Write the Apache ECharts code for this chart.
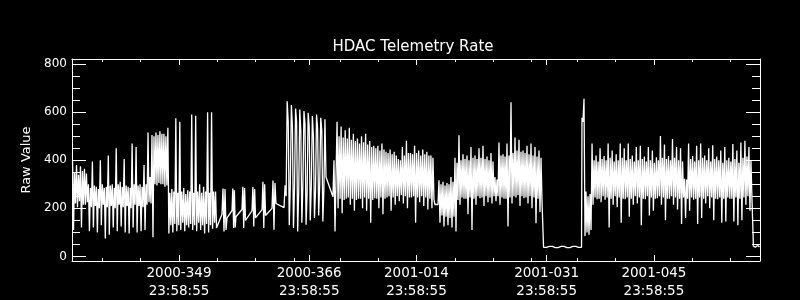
<!DOCTYPE html>
<html><head><meta charset="utf-8">
<script src="https://cdn.jsdelivr.net/npm/echarts@6/dist/echarts.min.js"></script>
<style>html,body{margin:0;padding:0;background:#000}#c{width:800px;height:300px}</style>
</head><body><div id="c"></div>
<script>
// time unit: days since 2000-001 00:00:00
const titleText = 'HDAC Telemetry Rate';
const yName = 'Raw Value';
const majorTicks = [348.999, 365.999, 379.999, 396.999, 410.999];
const tickLabels = ['2000-349\n23:58:55', '2000-366\n23:58:55', '2001-014\n23:58:55', '2001-031\n23:58:55', '2001-045\n23:58:55'];
const minorTicks = [339, 344, 349, 354, 359, 364, 370, 375, 380, 385, 390, 395, 401, 406, 411, 416, 421];
const yMajor = [0, 200, 400, 600, 800];
const yMinor = [50, 100, 150, 250, 300, 350, 450, 500, 550, 650, 700, 750];

// telemetry segments: each is evenly sampled between its start and end day
const segStart = [335.10, 354.61, 355.92, 357.22, 358.53, 359.84, 361.14, 362.71, 369.10, 382.81, 396.59, 401.61, 423.99];
const segEnd   = [353.90, 355.27, 356.44, 357.68, 358.99, 360.30, 361.66, 368.19, 382.42, 396.39, 401.55, 423.80, 424.78];

const seg1 = [
  400,110,350,220, 380,205,340,230, 375,120,355,215, 365,215,345,225,
  300,105,285,205, 395,120,295,210, 290,100,280,200, 400,130,300,215,
  285,75,290,205, 420,90,295,210, 300,120,285,200, 450,105,300,215,
  310,125,290,205, 405,100,295,210, 290,95,285,200, 470,120,300,215,
  455,100,295,210, 300,105,290,205, 380,110,300,215, 515,225,330,220,
  505,80,500,300, 515,295,505,305, 520,300,510,300, 510,290,500,295,
  535,95,265,130, 280,100,270,135, 575,105,265,130, 560,110,270,140,
  285,105,260,130, 275,120,270,135, 590,110,265,130, 585,105,270,140,
  300,110,265,130, 290,95,270,135, 600,100,265,130, 600,115,270,140,
  270,118];
const seg2 = [175, 282, 104, 280, 110, 160];
const seg3 = [190, 282, 118, 275, 120, 165];
const seg4 = [195, 290, 118, 285, 150];
const seg5 = [190, 289, 125, 280, 160];
const seg6 = [195, 310, 118, 300, 170];
const seg7 = [200, 316, 111, 305, 220];
const seg8 = [203, 296, 250, 645, 560, 130, 300, 630, 540, 118, 280, 615, 560, 104, 270, 611, 520, 140, 300, 605,
  550, 132, 260, 597, 540, 150, 290, 584, 500, 160, 270, 590, 530, 170, 300, 577, 520, 145, 280, 570, 330];
const seg9 = [248, 400, 104, 330,
  560,200,500,240, 540,180,495,235, 525,240,490,245, 535,215,485,240,
  510,190,480,235, 490,240,470,240, 500,200,475,245, 510,190,465,240,
  480,140,455,235, 460,242,450,240, 460,200,440,245, 470,175,445,240,
  435,245,430,250, 445,190,425,245, 435,215,420,250, 405,230,400,255,
  455,220,420,250, 481,200,430,245, 430,245,425,250, 460,140,430,245,
  440,225,420,250, 445,210,425,245, 435,195,420,240, 420,200,410,235,
  216];
const seg10 = [216,
  317,140,300,170, 310,125,295,165, 305,130,300,160, 330,120,310,165,
  410,104,390,235, 504,215,400,245, 425,240,405,240, 420,175,400,245,
  455,110,410,240, 420,215,405,250, 450,242,410,245, 460,210,405,250,
  415,225,400,245, 430,220,395,250, 330,230,320,250, 474,215,420,245,
  425,240,415,240, 470,125,420,245, 641,220,430,250, 495,245,440,255,
  485,210,435,250, 440,242,430,245, 460,220,425,250, 470,200,420,245,
  455,138,415,240, 440,185,410,230];
const seg11 = [38, 38, 42, 42, 37, 37, 42, 42, 37, 37, 42, 42, 38, 38];
const seg12 = [577, 560, 656, 85, 270, 100, 250, 90, 260, 110,
  470,215,400,245, 420,238,395,240, 450,225,405,250, 418,236,400,245,
  470,120,410,240, 440,215,395,250, 425,205,400,245, 470,140,410,240,
  450,238,400,245, 470,165,405,240, 420,215,395,250, 455,220,400,245,
  460,130,405,240, 415,238,395,250, 455,170,400,245, 440,190,390,240,
  412,242,400,250, 501,215,410,245, 465,150,405,240, 418,240,400,250,
  488,215,410,245, 455,195,400,240, 450,135,395,245, 323,160,320,240,
  470,190,405,245, 418,236,395,240, 460,135,400,245, 470,160,410,240,
  420,220,400,250, 450,200,395,245, 462,150,405,240, 415,238,400,245,
  440,140,390,240, 455,145,400,245, 410,240,395,240, 467,145,405,245,
  440,130,390,240, 474,150,410,245, 481,215,415,250, 455,190,400,240];
const seg13 = [43, 38, 46, 39];

const segValues = [seg1, seg2, seg3, seg4, seg5, seg6, seg7, seg8, seg9, seg10, seg11, seg12, seg13];
const data = [];
segValues.forEach(function (vals, k) {
  const n = vals.length;
  for (let i = 0; i < n; i++) {
    const t = n > 1 ? segStart[k] + (segEnd[k] - segStart[k]) * i / (n - 1) : segStart[k];
    data.push([t, vals[i]]);
  }
});

const FONT = 'DejaVu Sans';
const xMin = 335.03, xMax = 424.85, yMin = -19, yMax = 821;
function xAx(pos, ticks, len, showLine, showLabel) {
  return {
    type: 'value', position: pos, min: xMin, max: xMax,
    splitLine: { show: false },
    axisLine: { show: showLine, onZero: false, lineStyle: { color: '#fff', width: 1 } },
    axisTick: { show: true, inside: true, length: len, customValues: ticks, lineStyle: { color: '#fff', width: 1 } },
    axisLabel: showLabel ? {
      show: true, customValues: majorTicks, color: '#fff', fontFamily: FONT, fontSize: 13.5, lineHeight: 17.5, margin: 4,
      formatter: function (v) {
        for (let i = 0; i < majorTicks.length; i++) if (Math.abs(majorTicks[i] - v) < 1e-6) return tickLabels[i];
        return '';
      }
    } : { show: false }
  };
}
function yAx(pos, ticks, len, showLine, showLabel) {
  const a = {
    type: 'value', position: pos, min: yMin, max: yMax,
    splitLine: { show: false },
    axisLine: { show: showLine, onZero: false, lineStyle: { color: '#fff', width: 1 } },
    axisTick: { show: true, inside: true, length: len, customValues: ticks, lineStyle: { color: '#fff', width: 1 } },
    axisLabel: showLabel ? { show: true, customValues: yMajor, color: '#fff', fontFamily: FONT, fontSize: 12, margin: 5 } : { show: false }
  };
  if (showLabel) {
    a.name = yName; a.nameLocation = 'middle'; a.nameGap = 37;
    a.nameTextStyle = { color: '#fff', fontFamily: FONT, fontSize: 13 };
  }
  return a;
}

const chart = echarts.init(document.getElementById('c'), null, { renderer: 'canvas' });
chart.setOption({
  backgroundColor: '#000',
  animation: false,
  grid: { left: 72, top: 59, width: 688, height: 204, show: false },
  graphic: [{
    type: 'text', x: 413, y: 47,
    style: { text: titleText, fill: '#fff', font: '15px "DejaVu Sans"', textAlign: 'center', textVerticalAlign: 'middle' }
  }],
  xAxis: [
    xAx('bottom', majorTicks, 6, true, true),
    xAx('bottom', minorTicks, 3, false, false),
    xAx('top', majorTicks, 6, true, false),
    xAx('top', minorTicks, 3, false, false)
  ],
  yAxis: [
    yAx('left', yMajor, 14, true, true),
    yAx('left', yMinor, 8, false, false),
    yAx('right', yMajor, 14, true, false),
    yAx('right', yMinor, 8, false, false)
  ],
  series: [{
    type: 'line', xAxisIndex: 0, yAxisIndex: 0, data: data,
    showSymbol: false, symbol: 'none', silent: true,
    lineStyle: { color: '#fff', width: 1.3 }
  }]
});
</script></body></html>
